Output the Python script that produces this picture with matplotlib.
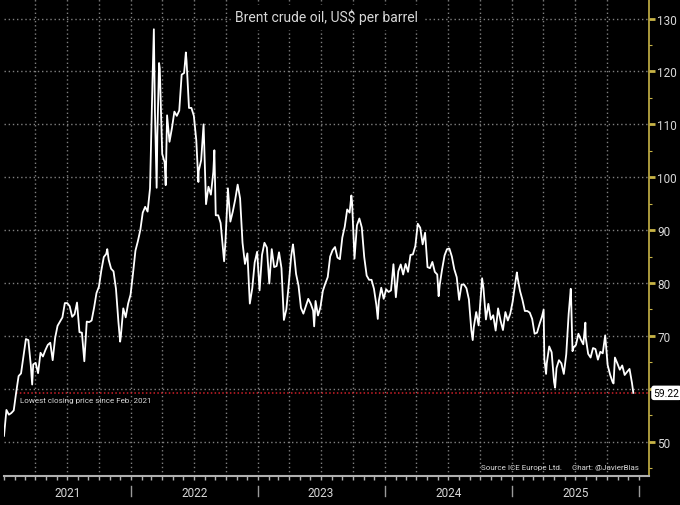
import numpy as np
import pandas as pd
import matplotlib
matplotlib.use("Agg")
import matplotlib.pyplot as plt
import matplotlib.dates as mdates
import matplotlib.transforms as mtransforms

plt.rcParams["font.family"] = ["Roboto", "DejaVu Sans"]

## Brent weekly closes (Fridays), US$ per barrel

p2021 = [51.1, 55.99, 55.1, 55.4, 55.9, 59.3, 62.4, 62.9, 66.1, 69.4, 69.2, 64.5, 64.6,
         64.9, 62.95, 66.8, 66.1, 67.3, 68.3, 68.7, 65.4, 69.6, 71.9, 72.7, 73.5, 76.2,
         76.2, 75.6, 73.6, 74.1, 76.3, 70.7, 70.6, 65.2, 72.7, 72.6, 72.9, 75.3, 78.1,
         79.3, 82.4, 84.9, 85.5, 84.4, 82.7, 82.2, 78.9, 72.7, 69.9, 75.2, 73.5, 76.1, 77.8]
p2022 = [81.8, 86.1, 87.9, 90.0, 93.3, 94.4, 93.5, 97.9, 118.1, 112.7, 107.9, 120.6,
         104.4, 102.8, 111.7, 106.7, 109.3, 112.4, 111.6, 112.6, 119.4, 119.7, 122.0,
         113.1, 113.1, 111.6, 107.0, 101.2, 103.2, 110.0, 94.9, 98.2, 96.7, 101.0, 92.8,
         92.8, 91.35, 86.2, 87.96, 97.9, 91.6, 93.5, 95.8, 98.6, 95.99, 87.6, 83.6, 85.6,
         76.1, 79.0, 83.9, 85.9]
p2023 = [78.6, 85.3, 87.6, 86.7, 79.9, 86.4, 83.0, 83.2, 85.8, 82.8, 73.0, 75.0, 79.8,
         85.1, 86.3, 81.7, 79.5, 75.3, 74.2, 75.6, 77.0, 76.1, 74.8, 76.6, 73.85, 75.4,
         78.5, 79.9, 81.1, 85.0, 86.2, 86.8, 84.8, 84.5, 88.6, 90.65, 93.9, 93.3, 95.3,
         84.6, 90.9, 92.2, 90.5, 84.9, 81.4, 80.6, 80.6, 78.9, 75.8, 76.6, 79.1, 77.0]
p2024 = [78.8, 78.3, 78.6, 83.55, 77.3, 82.2, 83.5, 81.6, 83.6, 82.1, 85.3, 85.4, 87.0,
         91.2, 90.45, 87.3, 89.5, 83.0, 82.8, 83.98, 82.1, 81.6, 79.6, 82.6, 85.2, 86.4,
         86.5, 85.0, 82.6, 81.1, 76.8, 79.7, 79.7, 79.0, 76.9, 71.1, 71.6, 74.5, 71.98,
         78.05, 79.0, 73.1, 76.05, 73.1, 73.9, 71.0, 75.2, 72.9, 71.1, 74.5, 72.9, 74.2]
p2025 = [76.5, 79.8, 81.0, 78.5, 76.8, 74.7, 74.7, 74.4, 73.2, 70.4, 70.6, 72.2, 73.6,
         65.6, 64.8, 68.0, 66.9, 61.3, 63.9, 65.4, 64.8, 62.8, 66.5, 74.2, 77.0, 67.8,
         68.3, 70.4, 69.3, 68.4, 69.7, 66.6, 65.9, 67.7, 67.5, 65.5, 66.99, 66.7, 70.1,
         64.5, 62.7, 61.3, 65.9, 64.8, 63.6, 64.4, 62.6, 63.2, 63.75, 61.1]
first_fridays = ["2021-01-01", "2022-01-07", "2023-01-06", "2024-01-05", "2025-01-03"]

# intraweek highs/lows that stand out in the chart
extra_dates = ["2021-03-23", "2021-10-25", "2021-12-01", "2022-03-08", "2022-03-16",
               "2022-03-23", "2022-04-11", "2022-06-08", "2022-07-14", "2022-08-29",
               "2022-09-26", "2023-04-12", "2023-06-12", "2023-09-27", "2023-12-12",
               "2024-06-04", "2024-09-10", "2024-10-07", "2025-01-15", "2025-04-02",
               "2025-04-09", "2025-05-05", "2025-06-19", "2025-06-24", "2025-07-31",
               "2025-10-20", "2025-12-16"]
extra_prices = [60.8, 86.4, 68.9, 127.98, 98.0, 121.6, 98.5, 123.6, 99.1, 105.1,
                84.1, 87.3, 71.8, 96.55, 73.2, 77.5, 69.2, 80.9, 82.0, 74.95,
                62.8, 60.2, 78.9, 67.1, 72.5, 61.0, 59.22]

last_price = 59.22
years = [2021, 2022, 2023, 2024, 2025]
yticks = [50, 60, 70, 80, 90, 100, 110, 120, 130]

frames = []
for start, vals in zip(first_fridays, [p2021, p2022, p2023, p2024, p2025]):
    d = pd.date_range(start, periods=len(vals), freq="W-FRI")
    frames.append(pd.Series(vals, index=d))
frames.append(pd.Series(extra_prices, index=pd.to_datetime(extra_dates)))
brent = pd.concat(frames).sort_index()

## Plot

bg = "black"
txt = "#d8d8d8"
yellow = "#c8b446"
gridc = "#808080"

fig = plt.figure(figsize=(6.8, 5.06), dpi=100, facecolor=bg)
ax = fig.add_axes([4 / 680, 29 / 506, 645 / 680, 477 / 506])
ax.set_facecolor(bg)

ax.plot(brent.index, brent.values, color="white", linewidth=1.3, zorder=3)

x0 = pd.Timestamp("2021-01-01")
x1 = x0 + pd.Timedelta(days=1855)
ax.set_xlim(x0, x1)
ax.set_ylim(43.5, 133.7)

# dotted grid: every 10 dollars, every quarter
for yv in yticks:
    ax.axhline(yv, color=gridc, linestyle=(0, (1, 2)), linewidth=1, zorder=1)
for q in pd.date_range("2021-04-01", "2025-12-31", freq="QS"):
    ax.axvline(q, color=gridc, linestyle=(0, (1, 2)), linewidth=1, zorder=1)

# right axis
ax.yaxis.tick_right()
ax.set_yticks(yticks)
ax.set_yticks(np.arange(45, 135, 5), minor=True)
ax.tick_params(axis="y", which="major", colors=yellow, length=4, width=2,
               labelcolor=txt, labelsize=8.5, pad=2)
ax.tick_params(axis="y", which="minor", colors=yellow, length=2.5, width=0.8)
for s in ["left", "top"]:
    ax.spines[s].set_visible(False)
ax.spines["right"].set_color(yellow)
ax.spines["right"].set_linewidth(1.2)
ax.spines["bottom"].set_color("#b0b0b0")
ax.spines["bottom"].set_linewidth(1.5)

# bottom axis: month ticks
ax.xaxis.set_major_locator(mdates.MonthLocator())
ax.tick_params(axis="x", which="both", colors="#b0b0b0", length=3, width=1,
               labelbottom=False)

trans = mtransforms.blended_transform_factory(ax.transData, ax.transAxes)
for yr in years:
    mid = pd.Timestamp(f"{yr}-07-02")
    ax.text(mid, -0.035, str(yr), transform=trans, color=txt, fontsize=8.5,
            ha="center", va="center")
for yr in years[1:] + [2026]:
    ax.plot([pd.Timestamp(f"{yr}-01-01")] * 2, [-0.022, -0.042], transform=trans,
            color="#9a9a9a", linewidth=1, clip_on=False)

# last price line and label
cross = brent[brent >= last_price].index[0]
ax.plot([cross, x1], [last_price, last_price], color="#d0202a",
        linestyle=(0, (1, 1.5)), linewidth=1.1, zorder=2)
ax.text(cross + pd.Timedelta(days=10), last_price - 1.4,
        "Lowest closing price since Feb. 2021", color=txt, fontsize=5.8,
        ha="left", va="center")
ax.text(1.007, last_price, f"{last_price:.2f}", transform=ax.get_yaxis_transform(),
        color="black", fontsize=7.5, ha="left", va="center", zorder=10, clip_on=False,
        bbox=dict(boxstyle="round,pad=0.15,rounding_size=0.2", fc="white", ec="white"))

ax.text(0.5, 0.963, "Brent crude oil, US$ per barrel", transform=ax.transAxes,
        color=txt, fontsize=10, ha="center", va="center", zorder=5,
        bbox=dict(boxstyle="square,pad=0.3", fc=bg, ec=bg))

ax.text(0.739, 0.0195, "Source ICE Europe Ltd.", transform=ax.transAxes,
        color=txt, fontsize=5.8, ha="left", va="center")
ax.text(0.881, 0.0195, "Chart: @JavierBlas", transform=ax.transAxes,
        color=txt, fontsize=5.8, ha="left", va="center")

fig.savefig("out.png", dpi=100, facecolor=bg)
